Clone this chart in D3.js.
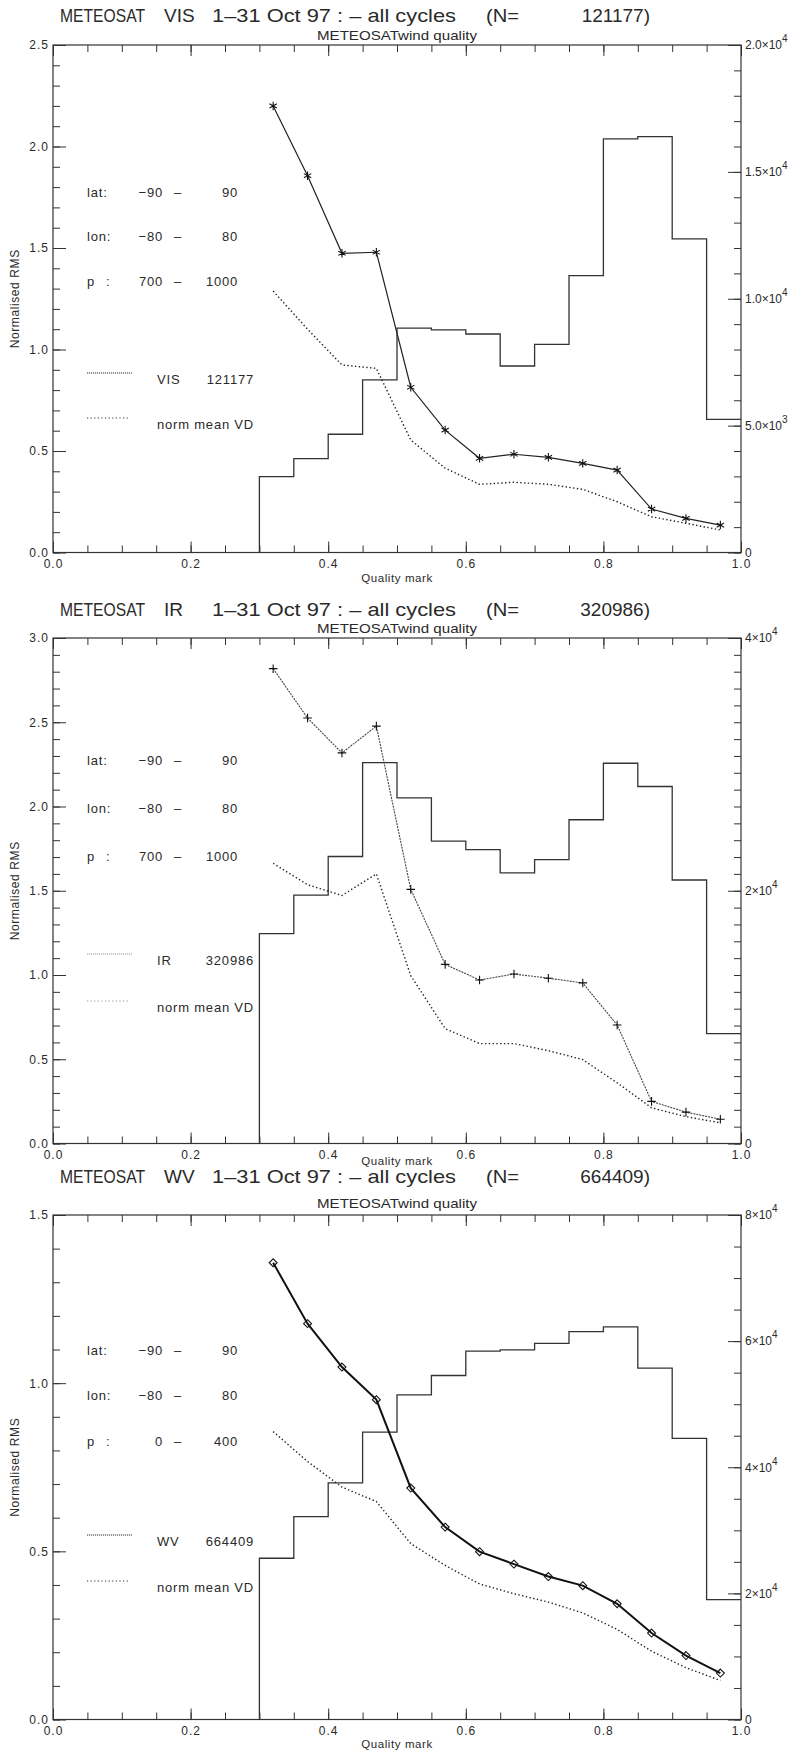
<!DOCTYPE html>
<html><head><meta charset="UTF-8"><title>METEOSAT wind quality</title>
<style>
  body { margin: 0; background: #fff; }
  svg text { font-family: 'Liberation Sans', Arial, sans-serif; fill: #2a2a2a; }
</style>
</head>
<body>
<svg id="chart" width="794" height="1754"></svg>
<script src="https://cdnjs.cloudflare.com/ajax/libs/d3/7.8.5/d3.min.js"></script>
<script>
// quality mark bin centres (points) and bin edges (histogram)
const qualityMarks = [0.32, 0.37, 0.42, 0.47, 0.52, 0.57, 0.62, 0.67, 0.72, 0.77, 0.82, 0.87, 0.92, 0.97];
const binStarts = [0.30, 0.35, 0.40, 0.45, 0.50, 0.55, 0.60, 0.65, 0.70, 0.75, 0.80, 0.85, 0.90, 0.95];
const binEnd = 1.0;

// VIS
const visRms = [2.20, 1.856, 1.474, 1.479, 0.814, 0.603, 0.464, 0.484, 0.469, 0.439, 0.406, 0.214, 0.168, 0.135];
const visMeanVd = [1.288, 1.10, 0.924, 0.907, 0.554, 0.415, 0.336, 0.346, 0.336, 0.311, 0.250, 0.176, 0.144, 0.111];
const visCounts = [2990, 3700, 4660, 6800, 8840, 8770, 8610, 7350, 8200, 10910, 16300, 16390, 12360, 5250];

// IR
const irRms = [2.818, 2.525, 2.318, 2.477, 1.508, 1.063, 0.970, 1.006, 0.981, 0.953, 0.703, 0.250, 0.186, 0.144];
const irMeanVd = [1.663, 1.536, 1.472, 1.600, 0.996, 0.682, 0.593, 0.593, 0.551, 0.498, 0.360, 0.212, 0.159, 0.123];
const irCounts = [16610, 19660, 22710, 30140, 27350, 23930, 23250, 21410, 22460, 25620, 30090, 28250, 20850, 8700];

// WV
const wvRms = [1.358, 1.177, 1.048, 0.951, 0.688, 0.572, 0.499, 0.462, 0.425, 0.398, 0.344, 0.257, 0.190, 0.138];
const wvMeanVd = [0.856, 0.767, 0.691, 0.648, 0.523, 0.458, 0.403, 0.374, 0.349, 0.317, 0.268, 0.203, 0.154, 0.116];
const wvCounts = [25570, 32170, 37510, 45560, 51480, 54550, 58430, 58610, 59650, 61510, 62260, 55710, 44580, 19010];

// tick labels
const xTicks = [0, 0.2, 0.4, 0.6, 0.8, 1.0];
const visLeftTicks = [0, 0.5, 1.0, 1.5, 2.0, 2.5];
const irLeftTicks = [0, 0.5, 1.0, 1.5, 2.0, 2.5, 3.0];
const wvLeftTicks = [0, 0.5, 1.0, 1.5];
const visRightTicks = [0, 5000, 10000, 15000, 20000];
const visRightMant = ["0", "5.0\u00d710", "1.0\u00d710", "1.5\u00d710", "2.0\u00d710"];
const visRightExp = ["", "3", "4", "4", "4"];
const irRightTicks = [0, 20000, 40000];
const irRightMant = ["0", "2\u00d710", "4\u00d710"];
const irRightExp = ["", "4", "4"];
const wvRightTicks = [0, 20000, 40000, 60000, 80000];
const wvRightMant = ["0", "2\u00d710", "4\u00d710", "6\u00d710", "8\u00d710"];
const wvRightExp = ["", "4", "4", "4", "4"];

const svg = d3.select("#chart");
const plotLeft = 53, plotRight = 741;
const fontFam = "'Liberation Sans', Arial, sans-serif";

const panels = [
  { top: 45, bottom: 552.5, titleY: 22, subY: 40, qmY: 582, name: "VIS", total: "121177",
    rms: visRms, vd: visMeanVd, counts: visCounts,
    leftTicks: visLeftTicks, rightTicks: visRightTicks, rightMant: visRightMant, rightExp: visRightExp,
    rightMinor: 1000, pFrom: "700", pTo: "1000", symbol: d3.symbolAsterisk, symSize: 50,
    rmsStroke: "#222", rmsWidth: 1.2, rmsDash: null, legendColor: "#2a2a2a",
    legY: [192, 236, 281, 373, 418] },
  { top: 638, bottom: 1143.5, titleY: 616, subY: 633, qmY: 1165, name: "IR", total: "320986",
    rms: irRms, vd: irMeanVd, counts: irCounts,
    leftTicks: irLeftTicks, rightTicks: irRightTicks, rightMant: irRightMant, rightExp: irRightExp,
    rightMinor: 40000 / 30, pFrom: "700", pTo: "1000", symbol: d3.symbolPlus, symSize: 26,
    rmsStroke: "#444", rmsWidth: 1.1, rmsDash: "2,1", legendColor: "#a8a8a8",
    legY: [760, 808, 856, 954, 1001] },
  { top: 1215, bottom: 1719.5, titleY: 1183, subY: 1208, qmY: 1748, name: "WV", total: "664409",
    rms: wvRms, vd: wvMeanVd, counts: wvCounts,
    leftTicks: wvLeftTicks, rightTicks: wvRightTicks, rightMant: wvRightMant, rightExp: wvRightExp,
    rightMinor: 5000, pFrom: "0", pTo: "400", symbol: d3.symbolDiamond2, symSize: 40,
    rmsStroke: "#111", rmsWidth: 2, rmsDash: null, legendColor: "#2a2a2a",
    legY: [1350, 1395, 1441, 1535, 1581] }
];

function styleAxis(sel, size) {
  sel.select(".domain").remove();
  sel.attr("color", "#333");
  sel.selectAll("line").attr("stroke-width", 1);
  sel.selectAll("text").attr("font-size", size).attr("font-family", fontFam)
    .attr("letter-spacing", 1).attr("fill", "#2a2a2a");
}

function drawPanel(p) {
  const g = svg.append("g");
  const x = d3.scaleLinear().domain([0, 1]).range([plotLeft, plotRight]);
  const leftMax = p.leftTicks[p.leftTicks.length - 1];
  const rightMax = p.rightTicks[p.rightTicks.length - 1];
  const y = d3.scaleLinear().domain([0, leftMax]).range([p.bottom, p.top]);
  const yc = d3.scaleLinear().domain([0, rightMax]).range([p.bottom, p.top]);

  // frame
  g.append("rect").attr("x", plotLeft).attr("y", p.top)
    .attr("width", plotRight - plotLeft).attr("height", p.bottom - p.top)
    .attr("fill", "none").attr("stroke", "#333").attr("stroke-width", 1.2);

  // x axes (bottom with labels, top ticks only)
  const xMinor = d3.range(0, 1.0001, 0.05);
  g.append("g").attr("transform", `translate(0,${p.bottom})`)
    .call(d3.axisBottom(x).tickValues(xMinor).tickSize(-7).tickFormat("")).call(s => styleAxis(s, 12));
  g.append("g").attr("transform", `translate(0,${p.bottom})`)
    .call(d3.axisBottom(x).tickValues(xTicks).tickSize(-11).tickPadding(7).tickFormat(d3.format(".1f")))
    .call(s => styleAxis(s, 12));
  g.append("g").attr("transform", `translate(0,${p.top})`)
    .call(d3.axisTop(x).tickValues(xMinor).tickSize(-7).tickFormat("")).call(s => styleAxis(s, 12));
  g.append("g").attr("transform", `translate(0,${p.top})`)
    .call(d3.axisTop(x).tickValues(xTicks).tickSize(-11).tickFormat("")).call(s => styleAxis(s, 12));

  // left axis
  g.append("g").attr("transform", `translate(${plotLeft},0)`)
    .call(d3.axisLeft(y).tickValues(d3.range(0, leftMax + 1e-6, 0.1)).tickSize(-7).tickFormat(""))
    .call(s => styleAxis(s, 12));
  g.append("g").attr("transform", `translate(${plotLeft},0)`)
    .call(d3.axisLeft(y).tickValues(p.leftTicks).tickSize(-13).tickPadding(4).tickFormat(d3.format(".1f")))
    .call(s => styleAxis(s, 12));

  // right axis (counts)
  g.append("g").attr("transform", `translate(${plotRight},0)`)
    .call(d3.axisRight(yc).tickValues(d3.range(0, rightMax + 1, p.rightMinor)).tickSize(-7).tickFormat(""))
    .call(s => styleAxis(s, 12));
  const ra = g.append("g").attr("transform", `translate(${plotRight},0)`)
    .call(d3.axisRight(yc).tickValues(p.rightTicks).tickSize(-13).tickPadding(4).tickFormat(""))
    .call(s => styleAxis(s, 12));
  ra.selectAll("text").attr("letter-spacing", 0).each(function(d, i) {
    const t = d3.select(this);
    t.text(p.rightMant[i]);
    if (p.rightExp[i]) {
      t.append("tspan").attr("dy", -7).attr("font-size", 10).text(p.rightExp[i]);
    }
  });

  // histogram of counts
  const histPts = [[binStarts[0], 0]];
  p.counts.forEach((c, i) => {
    histPts.push([binStarts[i], c]);
    histPts.push([i < binStarts.length - 1 ? binStarts[i + 1] : binEnd, c]);
  });
  g.append("path").datum(histPts)
    .attr("d", d3.line().x(d => x(d[0])).y(d => yc(d[1])))
    .attr("fill", "none").attr("stroke", "#333").attr("stroke-width", 1.3);

  // normalised mean VD (dotted)
  const line = d3.line().x((d, i) => x(qualityMarks[i])).y(d => y(d));
  g.append("path").datum(p.vd).attr("d", line)
    .attr("fill", "none").attr("stroke", "#222").attr("stroke-width", 1.4)
    .attr("stroke-dasharray", "1.4,2.4");

  // normalised RMS with symbols
  g.append("path").datum(p.rms).attr("d", line)
    .attr("fill", "none").attr("stroke", p.rmsStroke).attr("stroke-width", p.rmsWidth)
    .attr("stroke-dasharray", p.rmsDash);
  g.selectAll("path.sym").data(p.rms).enter().append("path").attr("class", "sym")
    .attr("transform", (d, i) => `translate(${x(qualityMarks[i])},${y(d)})`)
    .attr("d", d3.symbol(p.symbol, p.symSize))
    .attr("fill", "none").attr("stroke", "#111").attr("stroke-width", 1.1);

  // titles
  const ty = p.titleY;
  const t = g.append("g").attr("font-size", 19);
  t.append("text").attr("x", 60).attr("y", ty).attr("fill", "#333").attr("textLength", 85)
    .attr("lengthAdjust", "spacingAndGlyphs").text("METEOSAT");
  t.append("text").attr("x", 164).attr("y", ty).attr("fill", "#333").text(p.name);
  t.append("text").attr("x", 212).attr("y", ty).attr("fill", "#333").attr("textLength", 244)
    .attr("lengthAdjust", "spacingAndGlyphs").text("1\u201331 Oct 97 : \u2013 all cycles");
  t.append("text").attr("x", 486).attr("y", ty).attr("fill", "#333").attr("textLength", 33)
    .attr("lengthAdjust", "spacingAndGlyphs").text("(N=");
  t.append("text").attr("x", 650).attr("y", ty).attr("fill", "#333").attr("text-anchor", "end")
    .text(p.total + ")");
  g.append("text").attr("x", (plotLeft + plotRight) / 2).attr("y", p.subY)
    .attr("text-anchor", "middle").attr("font-size", 13).attr("textLength", 160)
    .attr("lengthAdjust", "spacingAndGlyphs").text("METEOSATwind quality");

  // axis titles
  g.append("text").attr("x", (plotLeft + plotRight) / 2).attr("y", p.qmY)
    .attr("text-anchor", "middle").attr("font-size", 11.5).attr("letter-spacing", 0.6).text("Quality mark");
  g.append("text").attr("transform", `translate(19,${(p.top + p.bottom) / 2}) rotate(-90)`)
    .attr("text-anchor", "middle").attr("font-size", 12).attr("letter-spacing", 0.6).text("Normalised RMS");

  // annotation block
  const L = g.append("g").attr("font-size", 13).attr("letter-spacing", 0.8);
  const rows = [["lat:", "\u221290", "90"], ["lon:", "\u221280", "80"], ["p", p.pFrom, p.pTo]];
  rows.forEach((r, i) => {
    const yy = p.legY[i] + 5;
    L.append("text").attr("x", 87).attr("y", yy).text(r[0]);
    if (r[0] === "p") L.append("text").attr("x", 106).attr("y", yy).text(":");
    L.append("text").attr("x", 163).attr("y", yy).attr("text-anchor", "end").text(r[1]);
    L.append("text").attr("x", 178).attr("y", yy).attr("text-anchor", "middle").text("\u2013");
    L.append("text").attr("x", 238).attr("y", yy).attr("text-anchor", "end").text(r[2]);
  });
  // legend samples
  g.append("line").attr("x1", 87).attr("x2", 132).attr("y1", p.legY[3]).attr("y2", p.legY[3])
    .attr("stroke", p.name === "IR" ? "#999" : "#333").attr("stroke-width", 1)
    .attr("stroke-dasharray", "1.2,0.8");
  g.append("line").attr("x1", 87).attr("x2", 130).attr("y1", p.legY[4]).attr("y2", p.legY[4])
    .attr("stroke", p.name === "IR" ? "#999" : "#333").attr("stroke-width", 1.2)
    .attr("stroke-dasharray", "1.2,2.4");
  L.append("text").attr("x", 157).attr("y", p.legY[3] + 11).attr("fill", p.legendColor).text(p.name);
  L.append("text").attr("x", 254).attr("y", p.legY[3] + 11).attr("text-anchor", "end")
    .attr("fill", p.legendColor).text(p.total);
  L.append("text").attr("x", 157).attr("y", p.legY[4] + 11).attr("fill", p.legendColor).text("norm mean VD");
}

panels.forEach(drawPanel);
</script>
</body></html>
